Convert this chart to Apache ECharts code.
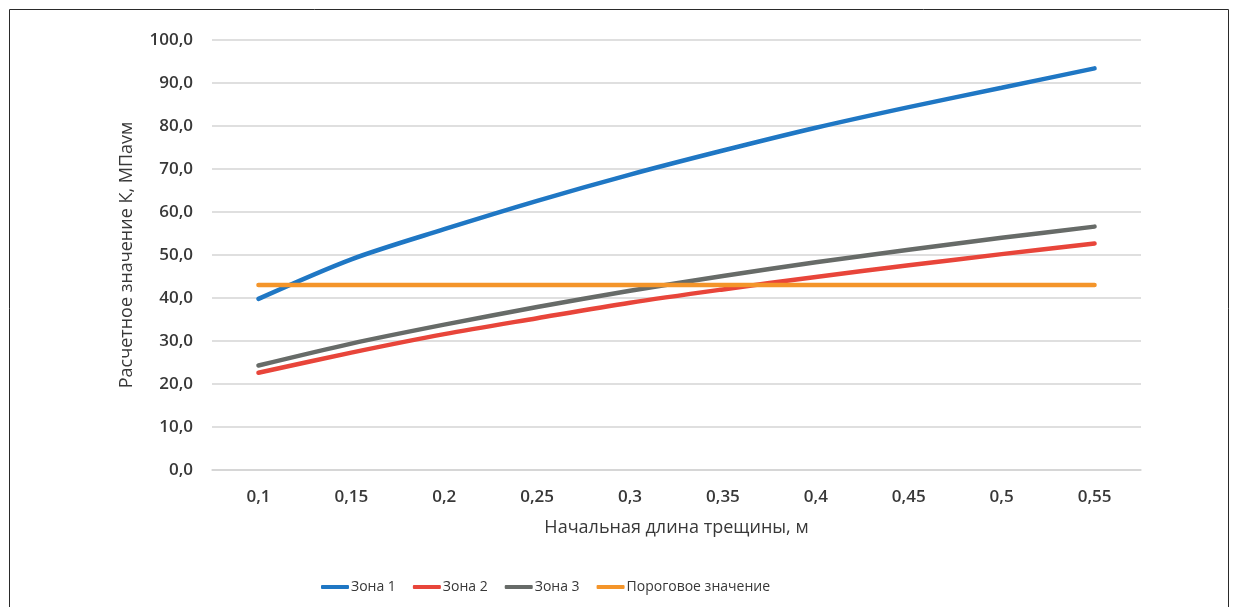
<!DOCTYPE html>
<html>
<head>
<meta charset="utf-8">
<script src="https://cdn.jsdelivr.net/npm/echarts@6/dist/echarts.min.js"></script>
<style>
  html, body { margin: 0; padding: 0; background: #fff; }
  #chart { width: 1238px; height: 607px; }
</style>
</head>
<body>
<div id="chart"></div>
<script>
// Initial crack length, m
const crackLengths = ['0,1', '0,15', '0,2', '0,25', '0,3', '0,35', '0,4', '0,45', '0,5', '0,55'];

// Calculated K values, MPa·√m
const zone1 = [39.8, 49.0, 56.0, 62.6, 68.7, 74.3, 79.6, 84.4, 88.9, 93.4];
const zone2 = [22.6, 27.3, 31.6, 35.3, 38.9, 42.0, 44.9, 47.6, 50.2, 52.7];
const zone3 = [24.3, 29.4, 33.8, 37.9, 41.7, 45.1, 48.3, 51.2, 54.0, 56.6];
const threshold = [43.0, 43.0, 43.0, 43.0, 43.0, 43.0, 43.0, 43.0, 43.0, 43.0];

const seriesNames = ['Зона 1', 'Зона 2', 'Зона 3', 'Пороговое значение'];
const seriesColors = ['#1f77c4', '#e8453a', '#676b68', '#f4952a'];

const fontFamily = '"Open Sans", "DejaVu Sans", sans-serif';
const textColor = '#383838';

const chart = echarts.init(document.getElementById('chart'), null, { renderer: 'canvas' });

function lineSeries(name, data, color) {
  return {
    name: name,
    type: 'line',
    data: data,
    smooth: 0.3,
    symbol: 'none',
    lineStyle: { color: color, width: 4.5, cap: 'round' },
    itemStyle: { color: color },
    emphasis: { disabled: true }
  };
}

chart.setOption({
  backgroundColor: '#ffffff',
  animation: false,
  graphic: [{
    type: 'rect',
    shape: { x: 9.5, y: 9.5, width: 1219, height: 640 },
    style: { fill: 'none', stroke: '#2a2a2a', lineWidth: 1 },
    silent: true
  }],
  grid: { left: 212, right: 97, top: 40, bottom: 137 },
  legend: {
    left: 316,
    top: 575,
    itemWidth: 28,
    itemHeight: 4,
    itemGap: 17,
    icon: 'roundRect',
    textStyle: { fontFamily: fontFamily, fontSize: 14, color: textColor, padding: [0, 0, 0, -3] },
    data: seriesNames
  },
  xAxis: {
    type: 'category',
    data: crackLengths,
    boundaryGap: true,
    name: 'Начальная длина трещины, м',
    nameLocation: 'middle',
    nameGap: 49,
    nameTextStyle: { fontFamily: fontFamily, fontSize: 18, fontWeight: 500, color: textColor },
    axisLine: { show: true, lineStyle: { color: '#d4d4d4', width: 1.5 } },
    axisTick: { show: false },
    axisLabel: { fontFamily: fontFamily, fontSize: 17, fontWeight: 600, color: textColor, margin: 19 },
    splitLine: { show: false }
  },
  yAxis: {
    type: 'value',
    min: 0,
    max: 100,
    interval: 10,
    name: 'Расчетное значение К, МПаvм',
    nameLocation: 'middle',
    nameGap: 76,
    nameTextStyle: { fontFamily: fontFamily, fontSize: 18, fontWeight: 500, color: textColor },
    axisLine: { show: false },
    axisTick: { show: false },
    axisLabel: {
      fontFamily: fontFamily, fontSize: 17, fontWeight: 600, color: textColor, margin: 19,
      formatter: v => v.toFixed(1).replace('.', ',')
    },
    splitLine: { show: true, lineStyle: { color: '#d4d4d4', width: 1.5 } }
  },
  series: [
    lineSeries(seriesNames[0], zone1, seriesColors[0]),
    lineSeries(seriesNames[1], zone2, seriesColors[1]),
    lineSeries(seriesNames[2], zone3, seriesColors[2]),
    lineSeries(seriesNames[3], threshold, seriesColors[3])
  ]
});
</script>
</body>
</html>
